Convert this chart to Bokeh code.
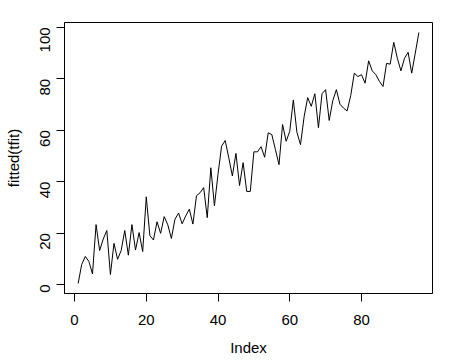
import math
from bokeh.plotting import figure
from bokeh.models import Range1d, FixedTicker
from bokeh.embed import file_html
from bokeh.resources import INLINE

# fitted(tfit) values, index 1..96
fitted = [
    0.4, 7.8, 10.9, 9.0, 4.1, 23.3, 13.2, 17.7, 21.0, 3.9,
    16.0, 9.8, 13.2, 21.0, 11.4, 23.3, 13.4, 20.2, 12.8, 34.1,
    19.0, 17.3, 24.4, 19.9, 26.4, 23.2, 17.9, 25.4, 27.8, 23.6,
    26.7, 29.3, 23.5, 34.5, 35.7, 37.7, 26.0, 45.4, 30.6, 42.9,
    53.8, 56.0, 49.3, 42.2, 51.0, 38.5, 47.4, 36.2, 36.2, 51.6,
    51.6, 53.6, 49.5, 59.0, 58.3, 52.5, 46.6, 62.2, 55.7, 59.6,
    71.8, 59.2, 54.4, 65.2, 72.7, 69.3, 74.2, 61.0, 74.2, 75.8,
    63.8, 71.5, 75.8, 70.1, 68.6, 67.5, 73.5, 82.2, 80.9, 81.6,
    78.3, 87.0, 83.1, 81.6, 79.0, 77.0, 86.0, 85.7, 94.2, 88.0,
    83.1, 88.0, 90.3, 82.2, 90.0, 98.0,
]
index = list(range(1, len(fitted) + 1))
x_ticks = [0, 20, 40, 60, 80]
y_ticks = [0, 20, 40, 60, 80, 100]

# R-style 4% range extension
def ext(lo, hi):
    d = (hi - lo) * 0.04
    return lo - d, hi + d

xlo, xhi = ext(min(index), max(index))
ylo, yhi = ext(min(fitted), max(fitted))

p = figure(frame_width=368, frame_height=271, output_backend="svg",
           toolbar_location=None,
           x_range=Range1d(xlo, xhi), y_range=Range1d(ylo, yhi),
           min_border_left=64, min_border_right=8, min_border_top=22,
           min_border_bottom=40)

p.line(index, fitted, line_color="black", line_width=1)

p.outline_line_color = "black"
p.outline_line_width = 1
p.outline_line_alpha = 1
p.background_fill_color = "white"
p.border_fill_color = "white"
p.xgrid.visible = False
p.ygrid.visible = False

font = "Liberation Sans"
for ax in (p.xaxis[0], p.yaxis[0]):
    ax.axis_line_color = "black"
    ax.major_tick_line_color = "black"
    ax.major_tick_out = 8
    ax.major_tick_in = 0
    ax.minor_tick_line_color = None
    ax.major_label_text_font = font
    ax.major_label_text_font_size = "15px"
    ax.major_label_text_color = "black"
    ax.axis_label_text_font = font
    ax.axis_label_text_font_size = "15px"
    ax.axis_label_text_font_style = "normal"
    ax.axis_label_text_color = "black"

p.xaxis.ticker = FixedTicker(ticks=x_ticks)
p.yaxis.ticker = FixedTicker(ticks=y_ticks)
p.xaxis.axis_label = "Index"
p.yaxis.axis_label = "fitted(tfit)"
p.yaxis.major_label_orientation = math.pi / 2
p.xaxis.major_label_standoff = 13
p.yaxis.major_label_standoff = 11
p.xaxis.axis_label_standoff = 11
p.yaxis.axis_label_standoff = 11

open("out.html", "w").write(file_html(p, INLINE))
